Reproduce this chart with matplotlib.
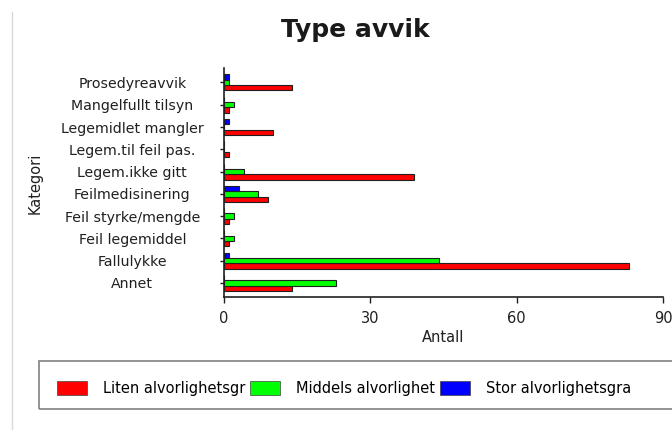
import matplotlib

matplotlib.use("Agg")
import matplotlib.pyplot as plt
import numpy as np
from matplotlib.lines import Line2D
from matplotlib.patches import Patch, Rectangle

categories = [
    "Annet",
    "Fallulykke",
    "Feil legemiddel",
    "Feil styrke/mengde",
    "Feilmedisinering",
    "Legem.ikke gitt",
    "Legem.til feil pas.",
    "Legemidlet mangler",
    "Mangelfullt tilsyn",
    "Prosedyreavvik",
]
liten = [14, 83, 1, 1, 9, 39, 1, 10, 1, 14]
middels = [23, 44, 2, 2, 7, 4, 0, 0, 2, 1]
stor = [0, 1, 0, 0, 3, 0, 0, 1, 0, 1]
series_names = ["Liten alvorlighetsgr", "Middels alvorlighet", "Stor alvorlighetsgra"]
x_ticks = [0, 30, 60, 90]

colors = ["#ff0000", "#00ff00", "#0000ff"]
W, H = 672, 430
fs = 10.5

plt.rcParams["font.family"] = ["DejaVu Sans"]
fig = plt.figure(figsize=(W / 100, H / 100), dpi=100)
ax = fig.add_axes([224 / W, (H - 297) / H, (663 - 224) / W, (297 - 68) / H])

y = np.arange(len(categories))
bh = 0.24
for k, vals in enumerate([liten, middels, stor]):
    ax.barh(y + (k - 1) * bh, vals, height=bh, color=colors[k],
            edgecolor="#202020", linewidth=0.8)

ax.set_xlim(0, 90)
ax.set_ylim(-0.63, len(categories) - 0.35)
ax.set_xticks(x_ticks)
ax.set_yticks(y)
ax.set_yticklabels(categories)
for spine in ("top", "right"):
    ax.spines[spine].set_visible(False)
for spine in ("left", "bottom"):
    ax.spines[spine].set_linewidth(1.2)
    ax.spines[spine].set_color("#202020")

ax.tick_params(axis="y", length=3, width=1, pad=63, labelsize=10.2, colors="#202020")
ax.tick_params(axis="x", length=4, width=1, pad=6, labelsize=fs, colors="#202020")
for lab in ax.get_yticklabels():
    lab.set_horizontalalignment("center")

fig.text(443 / W, 1 - 338 / H, "Antall", ha="center", va="center", fontsize=fs, color="#202020")
fig.text(35 / W, 1 - 183 / H, "Kategori", ha="center", va="center", rotation=90,
         fontsize=10.5, color="#202020")
fig.text(355 / W, 1 - 30 / H, "Type avvik", ha="center", va="center", fontsize=18,
         fontweight="bold", color="#1a1a1a")

# legend with its own frame that runs off the right edge
fig.patches.append(Rectangle((39 / W, (H - 409) / H), (690 - 39) / W, 48 / H,
                             transform=fig.transFigure, facecolor="none",
                             edgecolor="#808080", linewidth=1.2))
handles = [Patch(facecolor=c, edgecolor="#404040", linewidth=0.5) for c in colors]
fig.legend(handles, series_names, loc="center left", bbox_to_anchor=(57 / W, 1 - 388 / H),
           ncol=3, frameon=False, fontsize=fs, handlelength=2.05, handleheight=1.1,
           handletextpad=1.1, columnspacing=0.35, borderpad=0, borderaxespad=0)

# faint outer border on the left
fig.add_artist(Line2D([12 / W, 12 / W], [0, 1 - 12 / H], transform=fig.transFigure,
                      color="#d8d8d8", linewidth=1))

fig.savefig("out.png", dpi=100)
